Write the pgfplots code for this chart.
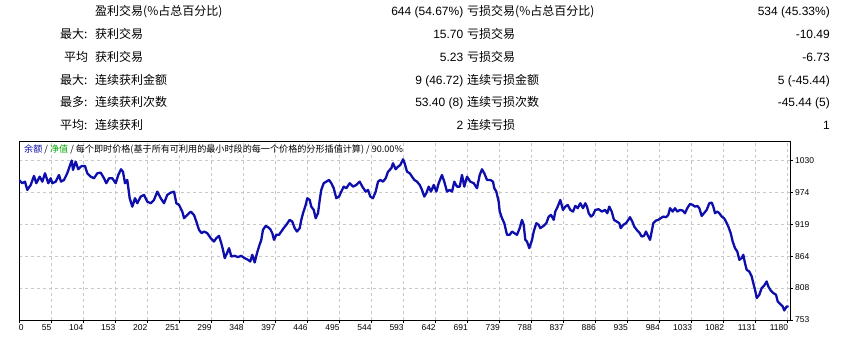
\documentclass[border=0pt]{standalone}
\usepackage{pgfplots}
\pgfplotsset{compat=1.18}
\usepackage{fontspec}
\setmainfont{Liberation Sans}
\newfontfamily\cjk{Noto Sans CJK SC}
\definecolor{eqblue}{RGB}{14,14,172}
\definecolor{eqgreen}{RGB}{0,170,0}
\definecolor{gridgray}{RGB}{200,200,200}
\newcommand\T{\fontsize{12}{14}\selectfont}
\newcommand\C{\cjk\fontsize{12}{14}\selectfont}
\begin{document}
\begin{tikzpicture}[x=1pt,y=1pt]
\useasboundingbox (0,0) rectangle (842,-340);
% statistics table
\begin{scope}[every node/.style={inner sep=0pt}]
\node[anchor=base west] at (95,-15.9) {\C 盈利交易(\%占总百分比)};
\node[anchor=base east] at (463.5,-15.9) {\T 644 (54.67\%)};
\node[anchor=base west] at (467,-15.9) {\C 亏损交易(\%占总百分比)};
\node[anchor=base east] at (830,-15.9) {\T 534 (45.33\%)};
%
\node[anchor=base west] at (60,-38.65) {\C 最大:};
\node[anchor=base west] at (95,-38.65) {\C 获利交易};
\node[anchor=base east] at (463.5,-38.65) {\T 15.70};
\node[anchor=base west] at (467,-38.65) {\C 亏损交易};
\node[anchor=base east] at (830,-38.65) {\T -10.49};
%
\node[anchor=base west] at (64,-61.4) {\C 平均};
\node[anchor=base west] at (95,-61.4) {\C 获利交易};
\node[anchor=base east] at (463.5,-61.4) {\T 5.23};
\node[anchor=base west] at (467,-61.4) {\C 亏损交易};
\node[anchor=base east] at (830,-61.4) {\T -6.73};
%
\node[anchor=base west] at (60,-84.15) {\C 最大:};
\node[anchor=base west] at (95,-84.15) {\C 连续获利金额};
\node[anchor=base east] at (463.5,-84.15) {\T 9 (46.72)};
\node[anchor=base west] at (467,-84.15) {\C 连续亏损金额};
\node[anchor=base east] at (830,-84.15) {\T 5 (-45.44)};
%
\node[anchor=base west] at (60,-106.9) {\C 最多:};
\node[anchor=base west] at (95,-106.9) {\C 连续获利次数};
\node[anchor=base east] at (463.5,-106.9) {\T 53.40 (8)};
\node[anchor=base west] at (467,-106.9) {\C 连续亏损次数};
\node[anchor=base east] at (830,-106.9) {\T -45.44 (5)};
%
\node[anchor=base west] at (60,-129.65) {\C 平均:};
\node[anchor=base west] at (95,-129.65) {\C 连续获利};
\node[anchor=base east] at (463.5,-129.65) {\T 2};
\node[anchor=base west] at (467,-129.65) {\C 连续亏损};
\node[anchor=base east] at (830,-129.65) {\T 1};
\end{scope}
\begin{axis}[
  at={(19pt,-320pt)}, anchor=south west,
  scale only axis, width=771pt, height=179pt,
  xmin=0, xmax=1183.5, ymin=753, ymax=1063.4,
  axis line style={black, line width=1pt},
  grid=major,
  major grid style={gridgray, line width=0.9pt, dash pattern=on 3pt off 3pt},
  xtick pos=lower, ytick pos=right,
  tick align=outside, major tick length=3pt,
  every tick/.style={black, line width=0.8pt},
  xtick={0,49.17,98.34,147.51,196.68,245.85,295.02,344.19,393.36,442.53,491.7,540.87,590.04,639.21,688.38,737.55,786.72,835.89,885.06,934.23,983.4,1032.57,1081.74,1130.91,1180.08},
  xticklabels={\rlap{0},55,104,153,202,251,299,348,397,446,495,544,593,642,691,739,788,837,886,935,984,1033,1082,1131,1180},
  ytick={753,808.4,863.8,919.2,974.6,1030},
  yticklabels={753,808,864,919,974,1030},
  xticklabel style={anchor=north east, inner sep=0pt, font=\fontsize{8.5}{10}\selectfont, xshift=0.5pt, yshift=-1pt},
  yticklabel style={anchor=west, inner sep=0pt, font=\fontsize{8.5}{10}\selectfont, xshift=2pt},
  clip=true,
]
\addplot[color=eqblue, line width=2.3pt, line join=round] coordinates {
(0,995.9)(5.1,990.2)(9.2,992.9)(12.7,978.6)(18.0,987.2)(23.0,1002.8)(26.6,990.2)(31.8,1001.6)
(35.8,992.9)(39.9,1007.5)(45.0,990.2)(48.7,998.8)(51.1,990.2)(56.3,992.9)(61.4,1004.5)(64.5,992.9)
(69.1,995.9)(74.1,1007.5)(79.4,1024.8)(80.9,1029.6)(82.9,1013.2)(87.0,1027.5)(91.0,1014.4)(96.2,1020.1)
(101.3,1020.1)(104.8,1007.5)(110.1,1001.6)(115.1,998.8)(120.2,1007.5)(125.4,1008.5)(130.5,998.8)(134.0,990.2)
(138.2,998.8)(143.2,998.8)(148.4,990.2)(152.4,1004.5)(156.6,1014.4)(159.6,1010.2)(162.7,990.2)(166.2,995.9)
(169.9,964.2)(173.9,949.6)(178.1,964.2)(181.6,955.5)(186.8,967.0)(191.9,969.9)(196.9,958.3)(202.2,955.5)
(207.2,961.2)(212.3,975.6)(217.5,964.2)(222.6,955.5)(227.6,969.9)(232.9,973.9)(238.0,975.6)(241.5,955.5)
(245.6,952.6)(250.7,941.0)(253.3,929.6)(258.3,935.3)(263.6,941.0)(268.6,935.3)(272.2,923.7)(276.3,909.3)
(280.4,903.6)(284.0,906.4)(289.0,903.6)(294.3,894.9)(299.3,889.1)
(302.9,894.9)(307.0,898.9)(310.5,886.3)(313.1,874.7)(315.8,860.3)(319.3,869.0)(322.4,877.6)(325.9,863.1)
(331.1,864.3)(336.2,862.1)(341.2,864.3)(346.4,860.3)(351.5,857.4)(355.0,854.4)(358.1,866.0)(361.8,852.7)
(365.3,869.0)(368.4,880.4)(371.9,892.0)(374.5,909.3)(378.7,916.2)(382.2,914.0)(385.7,910.5)(388.8,903.6)
(391.4,892.0)(395.0,900.7)(399.1,900.7)(402.6,906.4)(406.3,912.3)(410.3,918.0)(415.5,926.6)(419.5,923.7)
(423.2,912.3)(426.7,906.4)(430.9,912.3)(433.3,926.6)(436.0,938.2)(440.1,952.6)(442.5,964.2)(446.2,961.2)
(448.7,949.6)(452.4,943.9)(455.4,929.6)(459.0,938.2)(461.6,961.2)(464.0,978.6)(467.7,990.2)(471.7,992.9)
(475.9,995.9)(479.4,990.2)(483.1,981.5)(487.1,964.2)(491.2,967.0)(494.7,975.6)(498.4,984.3)(502.4,981.5)
(507.6,990.2)(512.7,984.3)(517.8,987.2)(523.0,992.9)(527.0,984.3)(532.2,975.6)(535.7,978.6)(539.3,967.0)
(543.4,964.2)(547.5,975.6)(551.1,992.9)(554.6,995.9)(558.7,992.9)(562.9,998.8)(566.4,1010.2)(571.5,1016.1)
(574.1,1024.8)(578.2,1014.4)(581.8,1018.9)(585.3,1021.8)(589.5,1031.7)(592.0,1024.8)(595.6,1010.2)
(599.7,1007.5)(603.3,1001.6)(606.8,995.9)(610.9,992.9)(615.1,987.2)(618.6,978.6)(622.1,967.0)(625.2,972.8)
(628.9,984.3)(632.4,975.6)(636.6,987.2)(640.6,975.6)(644.2,990.2)(649.3,1004.5)(652.8,992.9)(657.0,975.6)
(661.1,978.6)(664.7,975.6)(668.2,992.9)(672.3,984.3)(676.5,984.3)(680.0,1004.5)(683.5,984.3)(687.7,1001.6)
(692.7,992.9)(698.0,990.2)(703.0,981.5)(707.2,1004.5)(710.7,1014.4)(714.2,1007.5)(718.4,995.9)(723.5,995.9)
(727.6,992.9)(729.6,981.5)(732.7,975.6)(736.3,958.3)(737.9,941.0)(741.4,929.6)(744.9,920.9)(749.1,900.7)
(753.2,900.7)(756.8,906.4)(760.3,903.6)(764.4,900.7)(768.6,912.3)(772.1,926.6)(774.7,918.0)(777.2,892.0)
(779.8,889.1)(783.3,877.6)(787.5,892.0)(790.1,906.4)(794.1,920.9)(797.7,918.0)(800.2,912.3)(805.4,916.2)
(809.4,920.9)(813.1,932.3)(816.6,935.3)(820.8,926.6)(823.2,941.0)(826.9,949.6)(830.9,961.2)(835.0,943.9)
(838.6,949.6)(842.3,952.6)(846.3,943.9)(850.4,941.0)(853.9,950.9)(857.6,946.9)(861.6,955.5)(865.8,946.9)
(869.3,955.5)(871.9,949.6)(874.5,938.2)(878.0,932.3)(881.1,935.3)(884.6,943.9)(889.8,945.1)(894.9,941.0)
(899.5,943.9)(903.0,938.2)(906.1,949.6)(909.8,941.0)(913.3,926.6)(917.5,923.7)(921.5,920.9)(923.6,912.3)
(927.6,918.0)(931.7,920.9)(935.3,926.6)(937.9,931.3)(941.4,923.7)(944.5,915.0)(948.2,909.3)(952.2,904.6)
(955.8,897.7)(959.4,898.9)(962.4,906.4)(966.0,897.7)(968.6,892.0)(971.2,906.4)(973.7,920.9)(977.8,925.4)
(981.3,926.6)(985.0,929.6)(989.0,932.3)(993.1,931.3)(996.7,935.3)(999.3,946.9)(1003.4,941.0)(1007.0,946.9)
(1010.5,941.0)(1014.6,943.9)(1018.8,942.7)(1022.3,938.2)(1025.8,946.9)(1030.0,954.3)(1034.1,952.6)(1037.6,949.6)
(1041.2,950.9)(1044.3,946.9)(1047.9,933.5)(1051.5,938.2)(1055.6,943.9)(1059.6,955.5)(1063.3,956.6)(1065.8,949.6)
(1068.4,938.2)(1071.9,941.0)(1075.0,938.2)(1078.7,932.3)(1082.2,929.6)(1085.2,923.7)(1088.8,915.0)(1092.5,903.6)
(1095.5,889.1)(1099.1,877.6)(1102.6,871.8)(1105.7,857.4)(1109.3,860.3)(1111.8,866.0)(1114.4,851.7)(1117.0,840.1)
(1121.0,837.1)(1124.7,828.5)(1127.1,817.1)(1129.8,805.5)(1132.4,791.1)(1136.4,796.8)(1140.0,808.4)(1143.6,812.4)
(1147.7,819.8)(1150.2,811.2)(1153.9,804.2)(1157.9,799.7)(1162.0,796.8)(1164.6,785.2)(1168.1,781.2)(1172.3,776.5)
(1174.7,769.6)(1178.4,776.5)(1181.5,776.5)
};
\end{axis}
\node[anchor=west, inner sep=0pt] at (24,-150) {\cjk\fontsize{9.1}{11}\selectfont \textcolor{eqblue}{余额} / \textcolor{eqgreen}{净值} / 每个即时价格(基于所有可利用的最小时段的每一个价格的分形插值计算) / 90.00\%};
\end{tikzpicture}
\end{document}
